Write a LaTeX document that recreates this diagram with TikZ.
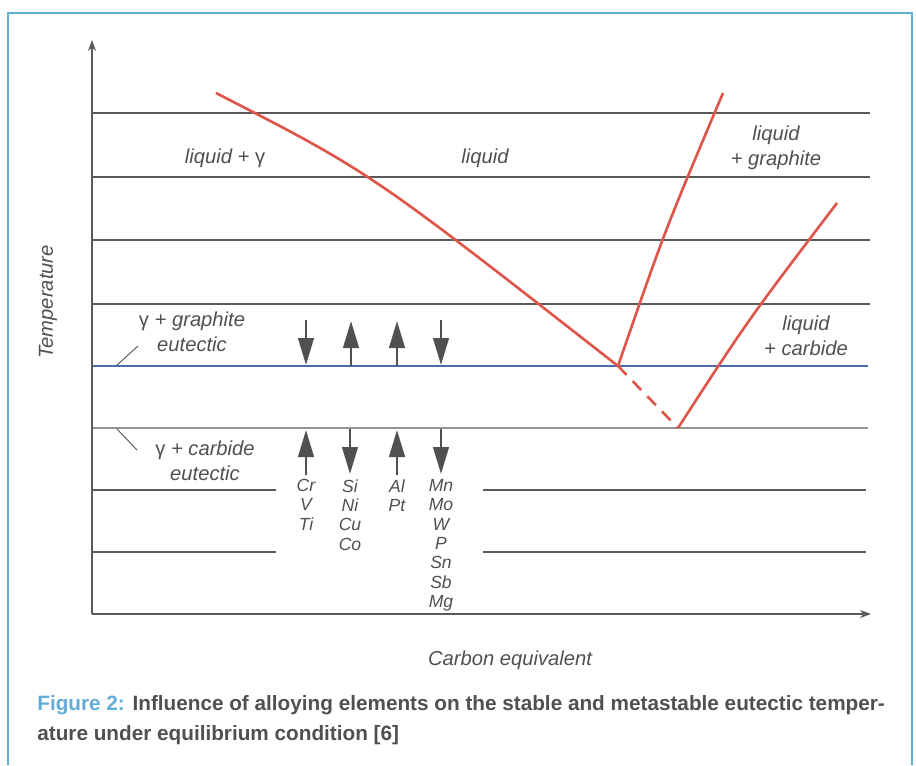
\documentclass[tikz,border=0pt]{standalone}
\usepackage{fontspec}
\setmainfont{Liberation Sans}
\usetikzlibrary{arrows.meta}
\definecolor{fred}{RGB}{222,86,74}
\definecolor{fblue}{RGB}{70,108,170}
\definecolor{fframe}{RGB}{98,172,216}
\definecolor{fgray}{RGB}{90,90,90}
\definecolor{fdark}{RGB}{80,80,80}
\newcommand{\gam}{\textup{γ}}
\tikzset{
  grid/.style  ={draw=fgray, line width=0.6pt},
  phase/.style ={draw=fred, line width=1.5pt},
  lbl/.style   ={font=\itshape\fontsize{11.5}{14}\selectfont, text=fdark, align=center, inner sep=0pt},
  elem/.style  ={font=\itshape\fontsize{10}{11}\selectfont, text=fdark, align=center, anchor=north, inner sep=0pt},
  shiftar/.style={-{Triangle[length=5.4mm,width=3.1mm]}, draw=fdark, fill=fdark, line width=1.6pt},
  axis/.style  ={-{Stealth[length=2.2mm,width=1.6mm]}, draw=fgray, line width=0.6pt},
  lead/.style  ={draw=fdark, line width=0.5pt}
}
\begin{document}
\begin{tikzpicture}[x=0.02cm,y=-0.02cm]
\useasboundingbox (0,0) rectangle (916,765);
% frame
\draw[fframe, line width=1.3pt] (8,765) -- (8,13) -- (912,13) -- (912,765);

% grid lines
\foreach \y in {113,177,240,304}{\draw[grid] (92,\y) -- (870,\y);}
\foreach \y in {490,552}{
  \draw[grid] (92,\y) -- (276,\y);
  \draw[grid] (483,\y) -- (866,\y);}

% eutectic lines
\draw[fblue, line width=1.5pt] (92,366) -- (868,366);
\draw[fgray!65, line width=1.5pt] (92,428) -- (868,428);

% axes
\draw[axis] (92,614) -- (92,40);
\draw[axis] (92,614) -- (871,614);
\node[lbl, rotate=90] (temp) at (48,302) {Temperature};
\node[lbl] (ce) at (510,660) {Carbon equivalent};

% phase boundaries
\coordinate (eg) at (618,366);
\coordinate (ec) at (678,428);
\draw[phase] (216,93) .. controls (370,172) .. (eg);
\draw[phase] (eg) .. controls (665,230) .. (723,93);
\draw[phase] (ec) .. controls (748,320) .. (837,203);
\draw[phase, dash pattern=on 7pt off 5pt] (eg) -- (ec);

% region labels
\node[lbl] (lg) at (225,158) {liquid + \gam};
\node[lbl] (liq) at (485,158) {liquid};
\node[lbl] (lgr) at (776,148) {liquid\\+ graphite};
\node[lbl] (lca) at (806,336) {liquid\\+ carbide};
\node[lbl] (geg) at (192,332) {\gam{} + graphite\\eutectic};
\node[lbl] (gec) at (205,461) {\gam{} + carbide\\eutectic};
\coordinate (lgeg) at (117,365);
\coordinate (lgec) at (117,429);
\draw[lead] (lgeg) -- (138,346);
\draw[lead] (lgec) -- (137,450);

% shift of the eutectic temperatures
\foreach \x/\a/\b in {306/320/365, 351/366/321, 397/366/321, 441/320/365}
  {\draw[shiftar] (\x,\a) -- (\x,\b);}
\foreach \x/\a/\b in {306/475/430, 350/429/474, 397/475/430, 441/429/474}
  {\draw[shiftar] (\x,\a) -- (\x,\b);}

\node[elem] (cr) at (306,479) {Cr\\V\\Ti};
\node[elem] (si) at (350,479) {Si\\Ni\\Cu\\Co};
\node[elem] (al) at (397,479) {Al\\Pt};
\node[elem] (mn) at (441,479) {Mn\\Mo\\W\\P\\Sn\\Sb\\Mg};

% caption
\node[anchor=north west, align=left, inner sep=0pt, text=fdark,
      font=\bfseries\fontsize{11.8}{17}\selectfont] (cap) at (37,695)
  {\textcolor{fframe}{Figure 2:} Influence of alloying elements on the stable and metastable eutectic temper-\\
   ature under equilibrium condition [6]};
\end{tikzpicture}
\end{document}
